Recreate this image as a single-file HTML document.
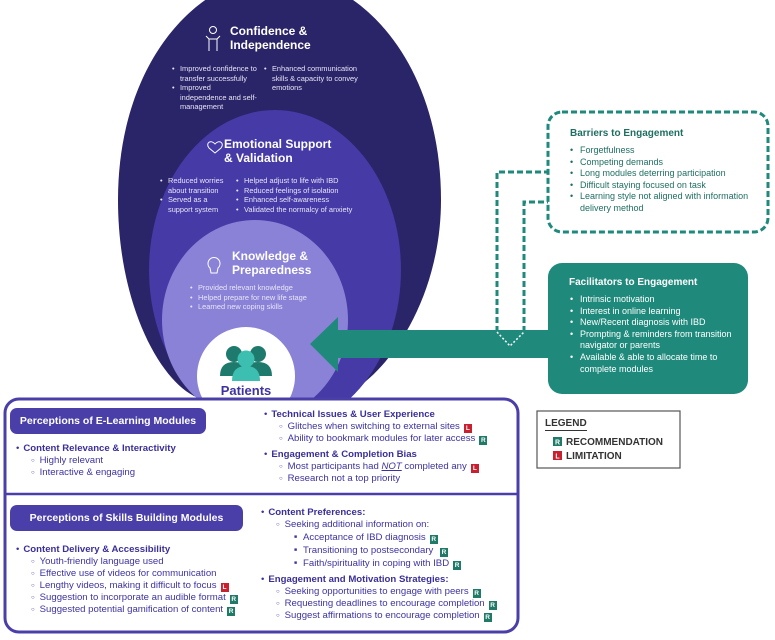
<!DOCTYPE html>
<html><head><meta charset="utf-8"><style>
*{margin:0;padding:0;box-sizing:border-box}
body{width:775px;height:640px;position:relative;background:#fff;font-family:"Liberation Sans",sans-serif;overflow:hidden}
.a{position:absolute}
.t{font-weight:bold;font-size:12px;line-height:14px;color:#fff}
.s{font-size:7.4px;line-height:9.6px;color:#e8e6f7}
.s div:before{content:"•";position:absolute;margin-left:-8px}
.s div{padding-left:8px;position:relative}
.p{color:#3d33a0;font-size:9.6px;line-height:12px}
.p b{color:#3a2f98}
.l1{padding-left:10px}
.l1:before{content:"•";margin-left:-8px;margin-right:4px}
.l2{padding-left:28px}
.l2:before{content:"○";font-size:6px;margin-left:-11px;margin-right:5px;vertical-align:1px}
.l3{padding-left:46px}
.l3:before{content:"■";font-size:5px;margin-left:-11px;margin-right:6px;vertical-align:2px}
.R,.L{display:inline-block;width:8px;height:9px;font-size:6.5px;line-height:9px;text-align:center;color:#fff;font-weight:bold;margin-left:4px;vertical-align:-1px}
.R{background:#1f7a68}.L{background:#c8202f}
.hd{background:#4a3fa8;color:#fff;font-weight:bold;font-size:10.5px;border-radius:7px;display:flex;align-items:center;justify-content:center}
.g{color:#fff;font-size:9px;line-height:11.6px}
.g div{padding-left:18px;position:relative}
.g div:before{content:"•";position:absolute;left:8px}
.bt{color:#1f6e62;font-size:9px;line-height:11.6px}
.bt div{padding-left:18px;position:relative}
.bt div:before{content:"•";position:absolute;left:8px}
</style></head><body>
<svg class="a" style="left:0;top:0" width="775" height="640">
<path d="M118,200 C118,60 200,-25 279,-25 C358,-25 441,60 441,200 C441,310 375,392 330,400 L205,400 C165,392 118,310 118,200Z" fill="#2a2468"/>
<ellipse cx="275" cy="270" rx="126" ry="160" fill="#453aa6"/>
<ellipse cx="255" cy="320" rx="93" ry="100" fill="#8a82d6"/>
<circle cx="246" cy="376" r="49" fill="#fff"/>
<path d="M497,332 L497,172 L548,172" fill="none" stroke="#1f8a7c" stroke-width="3" stroke-dasharray="6,3"/>
<path d="M524,332 L524,202 L548,202" fill="none" stroke="#1f8a7c" stroke-width="3" stroke-dasharray="6,3"/>
<rect x="548" y="112" width="220" height="120" rx="14" fill="#fff" stroke="#1f8a7c" stroke-width="3" stroke-dasharray="6,3"/>
<rect x="548" y="263" width="200" height="131" rx="14" fill="#1f8a7c"/>
<polygon points="310,344 338,317 338,330 550,330 550,358 338,358 338,372" fill="#1f8a7c"/>
<path d="M497,332 L510,346 L524,332" fill="none" stroke="#fff" stroke-width="1.5" stroke-dasharray="2,2"/>
<rect x="5" y="399" width="513" height="233" rx="14" fill="#fff" stroke="#4a3fa8" stroke-width="3"/>
<line x1="5" y1="494" x2="518" y2="494" stroke="#4a3fa8" stroke-width="2.5"/>
<rect x="537" y="411" width="143" height="57" fill="#fff" stroke="#555" stroke-width="1.2"/>
<g fill="#1f7a6e"><circle cx="234" cy="354" r="8"/><path d="M220,376 q0,-14 14,-14 q14,0 14,14z"/><circle cx="258" cy="354" r="8"/><path d="M244,376 q0,-14 14,-14 q14,0 14,14z"/></g>
<g fill="#3cbfb0"><circle cx="246" cy="359" r="8.5"/><path d="M232,381 q0,-15 14,-15 q14,0 14,15z"/></g>
<g fill="none" stroke="#fff" stroke-width="1"><circle cx="213" cy="30" r="3.5"/><path d="M206,36 l3,3 v12 M220,36 l-3,3 v12 M209,39 h8"/><path d="M218,268 a6,6 0 1 0 -8,0 l1,5 h6z"/><path d="M215,144 c-4,-5 -10,-1 -6,4 l6,5 l6,-5 c4,-5 -2,-9 -6,-4z"/></g>
<rect x="553" y="437" width="9" height="9" fill="#1f7a68"/><rect x="553" y="451" width="9" height="9" fill="#c8202f"/>
<text x="557.5" y="444.5" font-size="7" font-weight="bold" fill="#fff" text-anchor="middle" font-family="Liberation Sans">R</text>
<text x="557.5" y="458.5" font-size="7" font-weight="bold" fill="#fff" text-anchor="middle" font-family="Liberation Sans">L</text>
</svg>
<div class="a t" style="left:230px;top:24px">Confidence &amp;<br>Independence</div>
<div class="a s" style="left:172px;top:64px;width:86px"><div>Improved confidence to transfer successfully</div><div>Improved independence and self-management</div></div>
<div class="a s" style="left:264px;top:64px;width:100px"><div>Enhanced communication skills &amp; capacity to convey emotions</div></div>
<div class="a t" style="left:224px;top:137px">Emotional Support<br>&amp; Validation</div>
<div class="a s" style="left:160px;top:176px;width:72px"><div>Reduced worries about transition</div><div>Served as a support system</div></div>
<div class="a s" style="left:236px;top:176px;width:140px"><div>Helped adjust to life with IBD</div><div>Reduced feelings of isolation</div><div>Enhanced self-awareness</div><div>Validated the normalcy of anxiety</div></div>
<div class="a t" style="left:232px;top:249px">Knowledge &amp;<br>Preparedness</div>
<div class="a s" style="left:190px;top:283px;width:140px"><div>Provided relevant knowledge</div><div>Helped prepare for new life stage</div><div>Learned new coping skills</div></div>
<div class="a" style="left:196px;top:383px;width:100px;text-align:center;color:#3d33a0;font-weight:bold;font-size:13px">Patients</div>
<div class="a" style="left:570px;top:128px;color:#1f6e62;font-weight:bold;font-size:10px">Barriers to Engagement</div>
<div class="a bt" style="left:562px;top:145px;width:205px"><div>Forgetfulness</div><div>Competing demands</div><div>Long modules deterring participation</div><div>Difficult staying focused on task</div><div>Learning style not aligned with information delivery method</div></div>
<div class="a" style="left:569px;top:277px;color:#fff;font-weight:bold;font-size:10px">Facilitators to Engagement</div>
<div class="a g" style="left:562px;top:294px;width:185px"><div>Intrinsic motivation</div><div>Interest in online learning</div><div>New/Recent diagnosis with IBD</div><div>Prompting &amp; reminders from transition navigator or parents</div><div>Available &amp; able to allocate time to complete modules</div></div>
<div class="a" style="left:545px;top:418px;font-weight:bold;font-size:10px;color:#333;border-bottom:1.5px solid #333;line-height:12px">LEGEND</div>
<div class="a" style="left:566px;top:436px;font-weight:bold;font-size:10px;color:#333;line-height:14px">RECOMMENDATION<br>LIMITATION</div>
<div class="a hd" style="left:10px;top:408px;width:196px;height:26px">Perceptions of E-Learning Modules</div>
<div class="a p" style="left:14px;top:443px"><div class="l1"><b>Content Relevance &amp; Interactivity</b></div><div class="l2">Highly relevant</div><div class="l2">Interactive &amp; engaging</div></div>
<div class="a p" style="left:262px;top:409px"><div class="l1"><b>Technical Issues &amp; User Experience</b></div><div class="l2">Glitches when switching to external sites<span class="L">L</span></div><div class="l2">Ability to bookmark modules for later access<span class="R">R</span></div><div class="l1" style="margin-top:4px"><b>Engagement &amp; Completion Bias</b></div><div class="l2">Most participants had <i><u>NOT</u></i> completed any<span class="L">L</span></div><div class="l2">Research not a top priority</div></div>
<div class="a hd" style="left:10px;top:505px;width:233px;height:26px">Perceptions of Skills Building Modules</div>
<div class="a p" style="left:14px;top:544px"><div class="l1"><b>Content Delivery &amp; Accessibility</b></div><div class="l2">Youth-friendly language used</div><div class="l2">Effective use of videos for communication</div><div class="l2">Lengthy videos, making it difficult to focus<span class="L">L</span></div><div class="l2">Suggestion to incorporate an audible format<span class="R">R</span></div><div class="l2">Suggested potential gamification of content<span class="R">R</span></div></div>
<div class="a p" style="left:259px;top:507px"><div class="l1"><b>Content Preferences:</b></div><div class="l2">Seeking additional information on:</div><div class="l3">Acceptance of IBD diagnosis<span class="R">R</span></div><div class="l3">Transitioning to postsecondary <span class="R">R</span></div><div class="l3">Faith/spirituality in coping with IBD<span class="R">R</span></div><div class="l1" style="margin-top:4px"><b>Engagement and Motivation Strategies:</b></div><div class="l2">Seeking opportunities to engage with peers<span class="R">R</span></div><div class="l2">Requesting deadlines to encourage completion<span class="R">R</span></div><div class="l2">Suggest affirmations to encourage completion<span class="R">R</span></div></div>
</body></html>
